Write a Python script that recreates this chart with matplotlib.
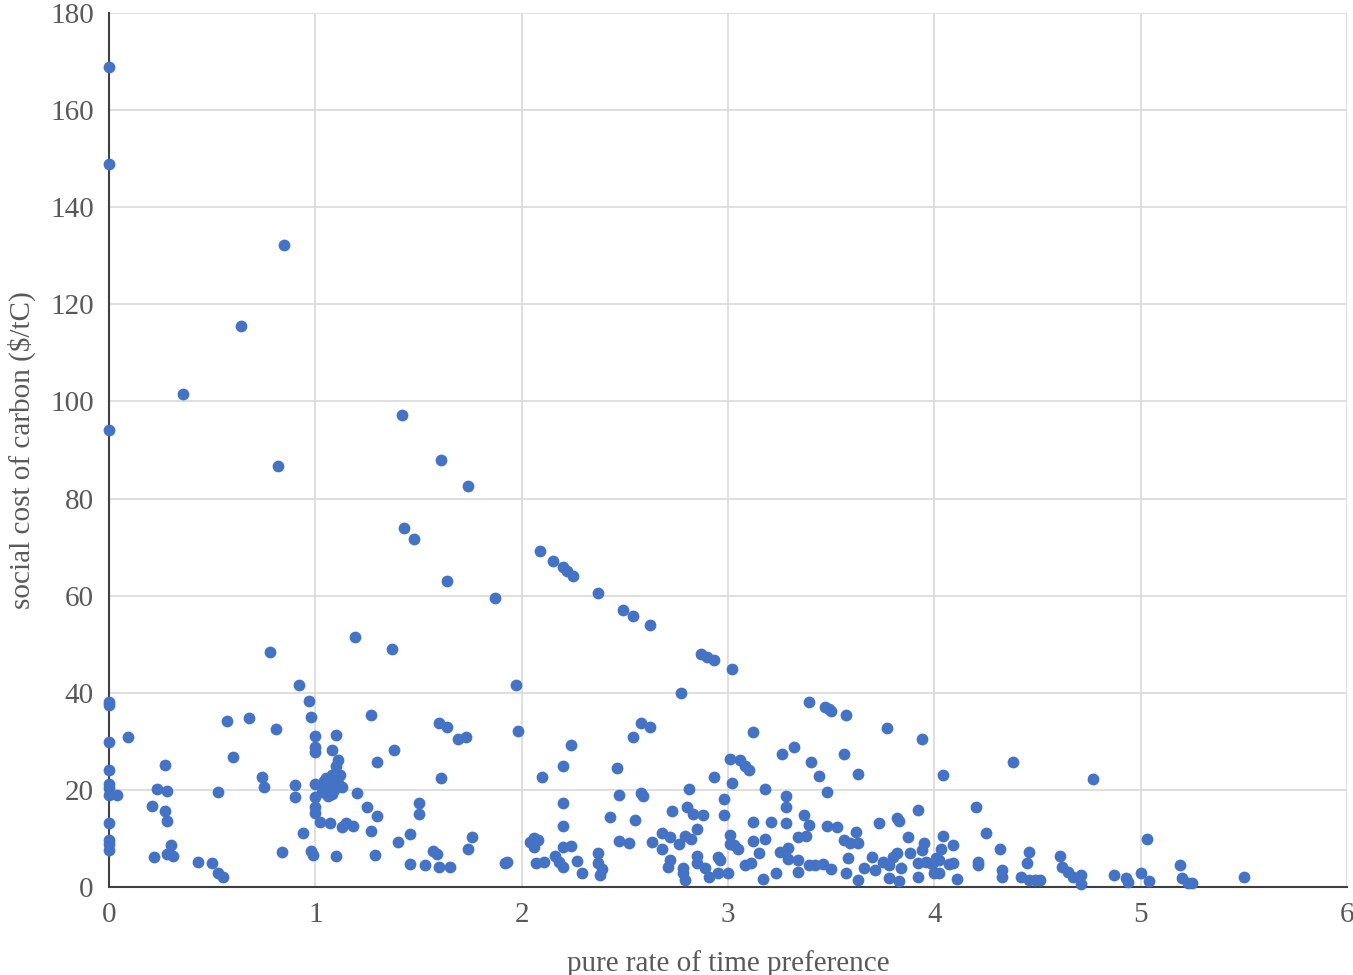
import matplotlib.pyplot as plt

# pure rate of time preference (x) and social cost of carbon (y)
x_left = [0, 0, 0, 0, 0, 0, 0, 0, 0, 0, 0, 0, 0, 0]
y_left = [168.8, 148.8, 94.1, 38.1, 37.5, 29.9, 24.1, 21.2, 20.4, 18.9, 13.2, 9.7, 8.9, 7.6]

x_0_1 = [0.04, 0.09, 0.21, 0.22, 0.23, 0.27, 0.27, 0.28, 0.28, 0.28, 0.3, 0.31, 0.36, 0.43, 0.5,
         0.53, 0.53, 0.55, 0.57, 0.6, 0.64, 0.68, 0.74, 0.75, 0.78, 0.81, 0.82, 0.84, 0.85, 0.9,
         0.9, 0.92, 0.94, 0.97, 0.98, 0.98, 0.99]
y_0_1 = [18.9, 30.9, 16.7, 6.2, 20.2, 25.1, 15.6, 19.8, 13.6, 6.8, 8.6, 6.4, 101.5, 5.1, 4.9,
         19.6, 2.9, 2.1, 34.2, 26.8, 115.6, 34.8, 22.7, 20.6, 48.3, 32.6, 86.6, 7.2, 132.2, 21.0,
         18.5, 41.5, 11.1, 38.2, 35.0, 7.4, 6.6]

x_1_2 = [1.0, 1.0, 1.0, 1.0, 1.0, 1.0, 1.0, 1.02, 1.07, 1.03, 1.04, 1.05, 1.05, 1.06, 1.07,
         1.08, 1.08, 1.09, 1.1, 1.1, 1.11, 1.1, 1.08, 1.11, 1.12, 1.13, 1.1, 1.13, 1.15, 1.18,
         1.19, 1.2, 1.25, 1.27, 1.27, 1.29, 1.3, 1.3, 1.37, 1.38, 1.4, 1.42, 1.43, 1.46, 1.46,
         1.48, 1.5, 1.5, 1.53, 1.57, 1.59, 1.6, 1.6, 1.61, 1.61, 1.64, 1.64, 1.65, 1.69, 1.73,
         1.74, 1.74, 1.76, 1.87, 1.92, 1.93, 1.97, 1.98]
y_1_2 = [31.0, 28.8, 27.8, 21.2, 18.5, 16.5, 15.2, 13.4, 13.2, 19.5, 21.8, 20.5, 22.5, 18.8, 21.0,
         19.2, 23.0, 20.0, 22.0, 24.9, 26.1, 31.2, 28.2, 21.5, 23.0, 20.5, 6.4, 12.4, 13.2, 12.6,
         51.4, 19.4, 16.5, 35.4, 11.5, 6.6, 25.8, 14.6, 49.1, 28.2, 9.3, 97.2, 73.9, 10.9, 4.7,
         71.7, 17.3, 15.0, 4.5, 7.4, 6.8, 33.7, 4.2, 22.4, 87.9, 32.9, 63.0, 4.2, 30.4, 30.9,
         82.6, 7.8, 10.3, 59.5, 4.9, 5.2, 41.6, 32.1]

x_2_3 = [2.04, 2.06, 2.08, 2.06, 2.07, 2.09, 2.1, 2.11, 2.15, 2.16, 2.18, 2.2, 2.2, 2.2, 2.2,
         2.2, 2.2, 2.22, 2.24, 2.24, 2.25, 2.27, 2.29, 2.37, 2.37, 2.37, 2.39, 2.38, 2.43, 2.46,
         2.47, 2.47, 2.49, 2.52, 2.54, 2.54, 2.55, 2.58, 2.58, 2.59, 2.62, 2.62, 2.63, 2.68, 2.68,
         2.71, 2.72, 2.72, 2.73, 2.76, 2.77, 2.78, 2.78, 2.79, 2.79, 2.8, 2.81, 2.82, 2.83, 2.85,
         2.85, 2.85, 2.87, 2.88, 2.89, 2.9, 2.91, 2.93, 2.93, 2.95, 2.96, 2.95, 2.98, 2.98, 3.0]
y_2_3 = [9.3, 10.1, 9.7, 8.3, 4.9, 69.2, 22.7, 5.1, 67.1, 6.4, 5.1, 65.9, 24.9, 17.3, 12.6,
         8.2, 4.1, 65.1, 29.2, 8.4, 64.0, 5.4, 2.9, 60.5, 7.0, 4.9, 3.7, 2.5, 14.4, 24.5,
         18.9, 9.5, 57.0, 9.1, 55.8, 30.9, 13.8, 33.8, 19.4, 18.8, 54.0, 33.0, 9.3, 11.1, 7.8,
         4.1, 5.6, 10.3, 15.6, 8.9, 40.0, 3.9, 2.9, 1.4, 10.5, 16.5, 20.2, 9.9, 15.0, 11.9,
         6.4, 4.9, 48.0, 14.8, 3.9, 47.4, 2.1, 46.7, 22.7, 6.2, 5.6, 2.9, 18.1, 14.8, 2.9]

x_3_4 = [3.01, 3.01, 3.01, 3.02, 3.02, 3.03, 3.05, 3.06, 3.08, 3.1, 3.08, 3.11, 3.12, 3.12, 3.12,
         3.15, 3.17, 3.18, 3.18, 3.21, 3.23, 3.25, 3.26, 3.28, 3.28, 3.28, 3.29, 3.29, 3.32, 3.34,
         3.34, 3.34, 3.37, 3.38, 3.39, 3.39, 3.39, 3.4, 3.42, 3.44, 3.46, 3.47, 3.48, 3.48, 3.49,
         3.5, 3.5, 3.53, 3.56, 3.56, 3.57, 3.57, 3.58, 3.59, 3.62, 3.63, 3.63, 3.63, 3.66, 3.7,
         3.71, 3.73, 3.75, 3.77, 3.78, 3.78, 3.8, 3.82, 3.82, 3.83, 3.83, 3.84, 3.87, 3.88, 3.92,
         3.92, 3.92, 3.94, 3.94, 3.95, 3.96, 3.99, 4.0]
y_3_4 = [26.4, 10.7, 8.9, 44.9, 21.4, 8.6, 7.8, 26.1, 24.9, 24.1, 4.5, 4.9, 31.9, 13.4, 9.5,
         7.0, 1.6, 20.2, 9.9, 13.4, 2.9, 7.2, 27.4, 18.7, 16.5, 13.2, 8.0, 5.8, 28.9, 10.3,
         5.6, 3.1, 14.8, 10.5, 38.1, 12.8, 4.5, 25.7, 4.5, 22.9, 4.7, 37.0, 19.6, 12.6, 36.7,
         36.3, 3.7, 12.4, 27.4, 9.7, 35.4, 2.9, 6.0, 9.1, 11.3, 23.3, 9.1, 1.4, 3.9, 6.2,
         3.5, 13.2, 5.1, 32.7, 4.5, 1.8, 6.2, 7.0, 14.2, 13.6, 1.2, 3.9, 10.3, 7.0, 15.9,
         4.9, 2.1, 30.5, 7.6, 9.1, 5.1, 4.7, 2.9]

x_4_6 = [4.01, 4.02, 4.02, 4.03, 4.04, 4.04, 4.07, 4.09, 4.09, 4.11, 4.2, 4.21, 4.21, 4.25, 4.32,
         4.33, 4.33, 4.38, 4.42, 4.45, 4.46, 4.46, 4.49, 4.51, 4.61, 4.62, 4.65, 4.67, 4.71, 4.71,
         4.77, 4.87, 4.93, 4.94, 5.0, 5.03, 5.04, 5.19, 5.2, 5.23, 5.25, 5.5]
y_4_6 = [6.0, 5.6, 2.9, 7.8, 23.1, 10.5, 4.7, 8.6, 4.9, 1.6, 16.5, 5.1, 4.5, 11.1, 7.8,
         3.5, 2.1, 25.7, 2.1, 4.9, 7.2, 1.4, 1.4, 1.4, 6.4, 4.1, 3.1, 2.1, 2.5, 0.6,
         22.2, 2.5, 1.8, 1.0, 2.9, 9.9, 1.2, 4.5, 1.8, 0.8, 0.8, 2.1]

x_vals = x_left + x_0_1 + x_1_2 + x_2_3 + x_3_4 + x_4_6
y_vals = y_left + y_0_1 + y_1_2 + y_2_3 + y_3_4 + y_4_6

plt.rcParams['font.family'] = ['Liberation Serif', 'DejaVu Serif']

fig = plt.figure(figsize=(13.53, 9.75), dpi=100)
ax = fig.add_axes([0.0806, 0.0903, 0.915, 0.8964])

ax.scatter(x_vals, y_vals, s=72, color='#4472C4', linewidths=0, zorder=3, clip_on=False)

ax.set_xlim(0, 6)
ax.set_ylim(0, 180)
ax.set_xticks(range(0, 7))
ax.set_yticks(range(0, 181, 20))
ax.grid(True, color='#D9D9D9', linewidth=1.2)
ax.set_axisbelow(True)

for s in ['top', 'right']:
    ax.spines[s].set_visible(False)
ax.spines['left'].set_color('#404040')
ax.spines['bottom'].set_color('#404040')
ax.spines['left'].set_linewidth(1.5)
ax.spines['bottom'].set_linewidth(1.5)

ax.tick_params(length=0, labelsize=21, labelcolor='#595959', pad=11)
ax.set_xlabel('pure rate of time preference', fontsize=21, color='#595959', labelpad=16)
ax.set_ylabel(r'social cost of carbon (\$/tC)', fontsize=21, color='#595959', labelpad=10)

fig.savefig('out.png', dpi=100)
